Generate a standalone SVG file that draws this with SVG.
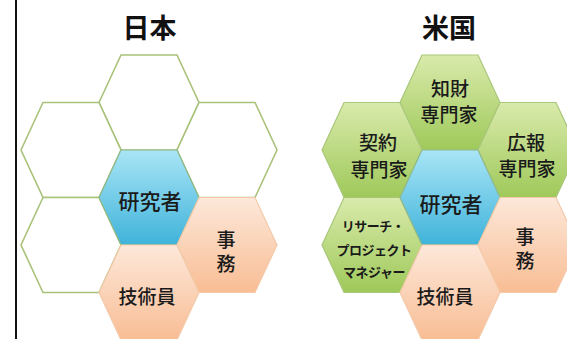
<svg xmlns="http://www.w3.org/2000/svg" width="567" height="339" viewBox="0 0 567 339">
<style>
.t{font-family:"Noto Sans CJK JP","Noto Sans CJK SC",sans-serif;fill:#1a1a1a;text-anchor:middle;dominant-baseline:central;font-weight:500}
.title{font-size:27px;font-weight:bold;fill:#111}
.lb{font-size:19px}
.lb2{font-size:21px}
.sm{font-size:13px;font-weight:bold;letter-spacing:-0.5px}
.vt{font-size:19px;writing-mode:vertical-rl;letter-spacing:5px}
.empty{fill:#fff;stroke:#a9c27a;stroke-width:1.6}
.green{fill:url(#gG);stroke:#a9c77a;stroke-width:1.2}
.blue{fill:url(#gB);stroke:#8fb88a;stroke-width:1.2}
.peach{fill:url(#gP);stroke:#f3c9a8;stroke-width:1.2}
</style>
<defs>
<polygon id="hex" points="-50,0 -28,-47.5 28,-47.5 50,0 28,47.5 -28,47.5"/>
<linearGradient id="gG" x1="0" y1="0" x2="0" y2="1">
<stop offset="0" stop-color="#d9eaab"/><stop offset="1" stop-color="#9fc95a"/>
</linearGradient>
<linearGradient id="gB" x1="0" y1="0" x2="0" y2="1">
<stop offset="0" stop-color="#a9e5f6"/><stop offset="1" stop-color="#3fb3da"/>
</linearGradient>
<linearGradient id="gP" x1="0" y1="0" x2="0" y2="1">
<stop offset="0" stop-color="#fde8da"/><stop offset="1" stop-color="#f8bd94"/>
</linearGradient>
</defs>
<rect width="567" height="339" fill="#fff"/>
<line x1="16" y1="0" x2="16" y2="339" stroke="#111" stroke-width="2"/>
<g id="titles">
<text class="t title" x="149.5" y="26">日本</text>
<text class="t title" x="449" y="26">米国</text>
</g>
<g id="connectors"/>
<!-- Japan -->
<g id="jp-top"><use href="#hex" class="empty" x="149" y="102.5"/></g>
<g id="jp-ul"><use href="#hex" class="empty" x="71" y="150"/></g>
<g id="jp-ur"><use href="#hex" class="empty" x="227" y="150"/></g>
<g id="jp-ll"><use href="#hex" class="empty" x="71" y="245"/></g>
<g id="jp-researcher"><use href="#hex" class="blue" x="149" y="197.5"/><text class="t lb2" x="150" y="200">研究者</text></g>
<g id="jp-admin"><use href="#hex" class="peach" x="227" y="245"/><text class="t vt" x="226" y="254">事務</text></g>
<g id="jp-tech"><use href="#hex" class="peach" x="149" y="292.5"/><text class="t lb" x="147" y="295">技術員</text></g>
<!-- US -->
<g id="us-ip"><use href="#hex" class="green" x="450" y="102.5"/><text class="t lb" x="450" y="87">知財</text><text class="t lb" x="449" y="113">専門家</text></g>
<g id="us-contract"><use href="#hex" class="green" x="372" y="150"/><text class="t lb" x="378" y="141">契約</text><text class="t lb" x="379" y="168">専門家</text></g>
<g id="us-pr"><use href="#hex" class="green" x="528" y="150"/><text class="t lb" x="526" y="141">広報</text><text class="t lb" x="527" y="167">専門家</text></g>
<g id="us-rpm"><use href="#hex" class="green" x="372" y="245"/><text class="t sm" x="373" y="225">リサーチ・</text><text class="t sm" x="374" y="249">プロジェクト</text><text class="t sm" x="374" y="271">マネジャー</text></g>
<g id="us-researcher"><use href="#hex" class="blue" x="450" y="197.5"/><text class="t lb2" x="451" y="203">研究者</text></g>
<g id="us-admin"><use href="#hex" class="peach" x="528" y="245"/><text class="t vt" x="525" y="251">事務</text></g>
<g id="us-tech"><use href="#hex" class="peach" x="450" y="292.5"/><text class="t lb" x="445" y="295">技術員</text></g>
</svg>
